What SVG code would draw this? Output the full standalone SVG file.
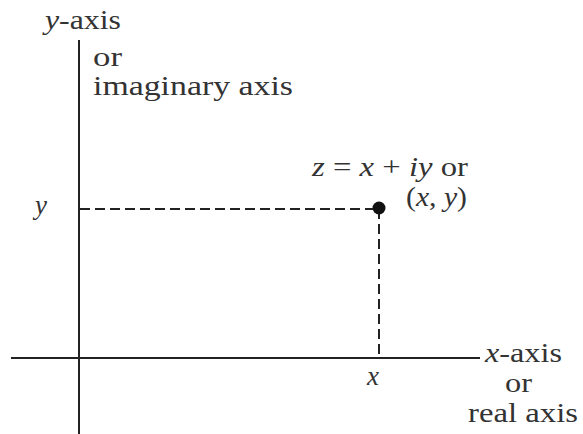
<svg xmlns="http://www.w3.org/2000/svg" width="583" height="434" viewBox="0 0 583 434">
<style>
text{font-family:"Liberation Serif","DejaVu Serif",serif;font-size:27px;fill:#333}
.i{font-style:italic}
.ax{stroke:#222;stroke-width:2;fill:none}
.d{stroke:#222;stroke-width:2;fill:none;stroke-dasharray:10,5}
</style>
<rect width="583" height="434" fill="#fff"/>
<g id="connectors">
<line class="ax" x1="79" y1="40" x2="79" y2="434"/>
<line class="ax" x1="11" y1="358" x2="480" y2="358"/>
<line class="d" x1="80" y1="209" x2="379" y2="209"/>
<line class="d" x1="379" y1="209" x2="379" y2="357"/>
</g>
<g id="point">
<circle cx="379" cy="208" r="6.5" fill="#111"/>
<text x="312" y="176" textLength="156" lengthAdjust="spacingAndGlyphs"><tspan class="i">z</tspan> = <tspan class="i">x</tspan> + <tspan class="i">iy</tspan> or</text>
<text x="406" y="206" textLength="61" lengthAdjust="spacingAndGlyphs">(<tspan class="i">x</tspan>, <tspan class="i">y</tspan>)</text>
</g>
<g id="yaxis-label">
<text x="45" y="29" textLength="76" lengthAdjust="spacingAndGlyphs"><tspan class="i">y</tspan>-axis</text>
<text x="93" y="66" textLength="29" lengthAdjust="spacingAndGlyphs">or</text>
<text x="93" y="95" textLength="200" lengthAdjust="spacingAndGlyphs">imaginary axis</text>
<text class="i" x="35" y="214">y</text>
</g>
<g id="xaxis-label">
<text x="485" y="362" textLength="77" lengthAdjust="spacingAndGlyphs"><tspan class="i">x</tspan>-axis</text>
<text x="505" y="392" textLength="27" lengthAdjust="spacingAndGlyphs">or</text>
<text x="468" y="422" textLength="110" lengthAdjust="spacingAndGlyphs">real axis</text>
<text class="i" x="367" y="385">x</text>
</g>
</svg>
